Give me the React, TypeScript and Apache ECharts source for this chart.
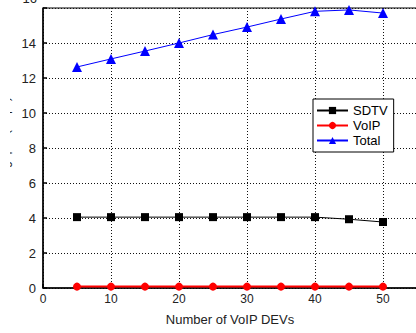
import React, { useEffect, useRef } from "react";
import * as echarts from "echarts";

const xValues = [5, 10, 15, 20, 25, 30, 35, 40, 45, 50];
const sdtv = [4.05, 4.05, 4.05, 4.05, 4.05, 4.05, 4.05, 4.05, 3.93, 3.77];
const voip = [0.08, 0.08, 0.08, 0.08, 0.08, 0.08, 0.08, 0.08, 0.08, 0.08];
const total = [12.63, 13.09, 13.54, 14.0, 14.48, 14.91, 15.37, 15.81, 15.89, 15.71];
const xTicks = [0, 10, 20, 30, 40, 50];
const yTicks = [0, 2, 4, 6, 8, 10, 12, 14];

const FONT = "Liberation Sans";

export default function App() {
  const ref = useRef<HTMLDivElement>(null);
  useEffect(() => {
    if (!ref.current) return;
    const chart = echarts.init(ref.current, null, { renderer: "svg" });
    const pair = (ys: number[]) => xValues.map((x, i) => [x, ys[i]]);
    chart.setOption({
      animation: false,
      backgroundColor: "#fff",
      grid: {
        left: 43,
        top: 8,
        right: -1,
        bottom: 45,
        containLabel: false,
        outerBoundsMode: "none",
        show: true,
        borderColor: "#000",
        borderWidth: 1,
      },
      legend: {
        orient: "vertical",
        left: 313,
        top: 99,
        backgroundColor: "#fff",
        borderColor: "#000",
        borderWidth: 1,
        padding: [5, 6, 5, 3],
        itemWidth: 31,
        itemHeight: 9,
        itemGap: 2,
        textStyle: { fontFamily: FONT, fontSize: 13, color: "#000", lineHeight: 13 },
        data: ["SDTV", "VoIP", "Total"],
      },
      xAxis: {
        type: "value",
        min: 0,
        max: 55,
        interval: 10,
        name: "Number of VoIP DEVs",
        nameLocation: "middle",
        nameGap: 25,
        nameTextStyle: { fontFamily: FONT, fontSize: 13, color: "#222" },
        axisLine: { lineStyle: { color: "#000", width: 1.5 } },
        axisTick: { show: true, inside: true, length: 4, lineStyle: { color: "#000", width: 1.5 } },
        axisLabel: {
          fontFamily: FONT,
          fontSize: 12,
          color: "#222",
          margin: 5,
          formatter: (v: number) => (xTicks.includes(v) ? String(v) : ""),
        },
        splitLine: { show: true, lineStyle: { color: "#111", type: [1, 2], width: 1 } },
      },
      yAxis: {
        type: "value",
        min: 0,
        max: 16,
        interval: 2,
        name: "Throughput (Mbps)",
        nameLocation: "middle",
        nameGap: 27,
        nameTextStyle: { fontFamily: FONT, fontSize: 12, color: "#222" },
        axisLine: { lineStyle: { color: "#000", width: 1.5 } },
        axisTick: { show: true, inside: true, length: 4, lineStyle: { color: "#000", width: 1.5 } },
        axisLabel: {
          fontFamily: FONT,
          fontSize: 13,
          color: "#222",
          margin: 7,
          formatter: (v: number) => (yTicks.includes(v) ? String(v) : ""),
        },
        splitLine: { show: true, lineStyle: { color: "#111", type: [1, 2], width: 1 } },
      },
      graphic: [
        {
          type: "rect",
          left: 0,
          top: 0,
          shape: { x: 0, y: 0, width: 10, height: 333 },
          style: { fill: "#fff" },
          z: 100,
        },
        {
          type: "text",
          x: 37,
          y: -2,
          z: 100,
          style: {
            text: "16",
            fontFamily: FONT,
            fontSize: 13,
            fill: "#222",
            align: "right",
            verticalAlign: "middle",
          },
        },
      ],
      series: [
        {
          name: "SDTV",
          type: "line",
          data: pair(sdtv),
          symbol: "rect",
          symbolSize: 8,
          color: "#000",
          lineStyle: { color: "#000", width: 1 },
          itemStyle: { color: "#000" },
        },
        {
          name: "VoIP",
          type: "line",
          data: pair(voip),
          symbol: "circle",
          symbolSize: 8,
          color: "#f00",
          lineStyle: { color: "#f00", width: 2 },
          itemStyle: { color: "#f00" },
        },
        {
          name: "Total",
          type: "line",
          data: pair(total),
          symbol: "triangle",
          symbolSize: 10,
          color: "#00f",
          lineStyle: { color: "#00f", width: 1 },
          itemStyle: { color: "#00f" },
        },
      ],
    });
    return () => chart.dispose();
  }, []);
  return (
    <div
      ref={ref}
      style={{ position: "fixed", left: 0, top: 0, width: 416, height: 333, background: "#fff" }}
    />
  );
}
